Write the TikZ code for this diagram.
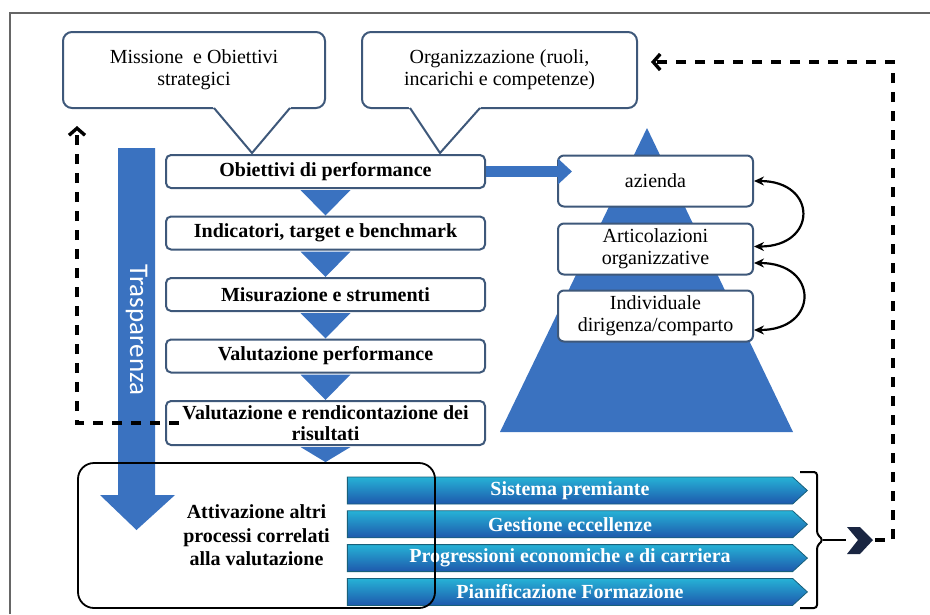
\documentclass[tikz,border=0pt]{standalone}
\usepackage{fontspec}
\setmainfont{Liberation Serif}
\newfontfamily\calibri{Carlito}
\usetikzlibrary{positioning,arrows.meta,shapes.symbols}

\definecolor{boxline}{RGB}{62,88,122}
\definecolor{pyrblue}{RGB}{58,114,192}
\definecolor{barcyan}{RGB}{38,178,214}
\definecolor{barblue}{RGB}{30,88,172}
\definecolor{bartop}{RGB}{24,96,122}
\definecolor{navy}{RGB}{26,38,66}

\tikzset{
  txt/.style={font=\fontsize{20}{22}\selectfont},
  calloutbox/.style={draw=boxline, line width=2pt, rounded corners=9pt, fill=white, minimum width=262pt, minimum height=76pt, inner sep=0pt, align=center, txt},
  stepbox/.style={draw=boxline, line width=2pt, rounded corners=5pt, fill=white, minimum width=319pt, minimum height=33pt, inner sep=0pt, align=center, font=\fontsize{20}{21}\selectfont\bfseries},
  levelbox/.style={draw=boxline, line width=2pt, rounded corners=6pt, fill=white, minimum width=195pt, minimum height=51pt, inner sep=0pt, align=center, txt},
  bar/.style={signal, signal to=east, signal pointer angle=85, minimum width=460pt, minimum height=27pt, inner sep=0pt, top color=barcyan, bottom color=barblue, draw=bartop, line width=0.8pt, text=white, font=\fontsize{20}{22}\selectfont\bfseries},
  pointer/.style={draw=boxline, line width=2pt, line join=round},
  feedback/.style={line width=3.4pt, dash pattern=on 10pt off 9pt, -{Straight Barb[length=7pt,width=16pt]}},
  swap/.style={line width=2.2pt, {Stealth[length=10pt,width=9pt]}-{Stealth[length=10pt,width=9pt]}, out=0, in=0, looseness=2.5},
}

\begin{document}
\begin{tikzpicture}[x=1pt,y=-1pt]
\useasboundingbox (0,0) rectangle (930,614);
\draw[line width=1.4pt, black!60] (10,614) -- (10,13) -- (930,13);

% callouts on top
\node[calloutbox] (mis) at (194,70) {Missione\ \ e Obiettivi\\strategici};
\node[calloutbox, minimum width=275pt] (org) at (499.5,70) {Organizzazione (ruoli,\\incarichi e competenze)};
\fill[white] (212,106) -- (292,106) -- (252,153) -- cycle;
\draw[pointer] (214,108) -- (252,153) -- (290,108);
\fill[white] (408,106) -- (482,106) -- (440,153) -- cycle;
\draw[pointer] (410,108) -- (440,153) -- (480,108);

% trasparenza
\fill[pyrblue] (118,148) -- (155,148) -- (155,495) -- (175,495) -- (136.5,530) -- (100,495) -- (118,495) -- cycle;
\node[rotate=-90, text=white, font=\calibri\fontsize{27}{30}\selectfont] (trasp) at (136.5,330) {Trasparenza};

% steps
\node[stepbox] (s1) at (325.5,171.5) {Obiettivi di performance};
\node[stepbox, below=26.5pt of s1] (s2) {Indicatori, target e benchmark};
\node[stepbox, below=26.5pt of s2] (s3) {Misurazione e strumenti};
\node[stepbox, below=26.5pt of s3] (s4) {Valutazione performance};
\node[stepbox, below=26.5pt of s4, minimum height=44pt] (s5) {Valutazione e rendicontazione dei\\risultati};
\foreach \a/\b in {s1/s2,s2/s3,s3/s4,s4/s5}
  \fill[pyrblue] ([xshift=-25pt,yshift=-1pt]\a.south) -- ([xshift=25pt,yshift=-1pt]\a.south) -- (\b.north);

% pyramid
\fill[pyrblue] (647,128) -- (793,432) -- (500,432) -- cycle;
\node[levelbox] (az) at (655.5,181) {azienda};
\node[levelbox, below=15pt of az] (art) {Articolazioni\\organizzative};
\node[levelbox, below=14pt of art] (ind) {Individuale\\dirigenza/comparto};
\draw[line width=11pt, pyrblue, -{Triangle[length=14pt,width=25pt]}] (s1.east) -- ([xshift=15pt]s1.east -| az.west);
\draw[swap] (az.east) to ([yshift=2.5pt]art.east);
\draw[swap] ([yshift=-14pt]art.east) to ([yshift=-14pt]ind.east);

% other processes
\node[bar] (b1) at (570,490.5) {Sistema premiante};
\node[bar, below=6pt of b1] (b2) {Gestione eccellenze};
\node[bar, below=6pt of b2] (b3) {Progressioni economiche e di carriera};
\node[bar, below=6pt of b3] (b4) {Pianificazione Formazione};
\node[draw, line width=1.8pt, rounded corners=16pt, minimum width=357pt, minimum height=145pt, align=center, font=\fontsize{20}{23.5}\selectfont\bfseries] (proc) at (256.5,535.5) {Attivazione altri\\processi correlati\\alla valutazione};
\fill[pyrblue] ([xshift=-25pt,yshift=-1pt]s5.south) -- ([xshift=25pt,yshift=-1pt]s5.south) -- (s5.south |- proc.north);

% bracket and feedback
\coordinate (brace) at (823,540);
\coordinate (chev) at (860,540);
\draw[line width=2pt, rounded corners=3pt] (800,472) -- (817,472) -- (817,534) -- (brace) -- (817,546) -- (817,608) -- (800,608);
\draw[line width=2pt] (brace) -- (846,540);
\fill[navy] (847,527) -- (860,527) -- (873,540) -- (860,554) -- (847,554) -- (858,540) -- cycle;
\draw[feedback] ([xshift=15pt]chev) -- ++(18pt,0) |- ([xshift=13pt,yshift=8pt]org.east);
\draw[feedback] ([xshift=14pt]s5.west) -| ([xshift=15pt,yshift=-17pt]mis.south west);
\end{tikzpicture}
\end{document}
